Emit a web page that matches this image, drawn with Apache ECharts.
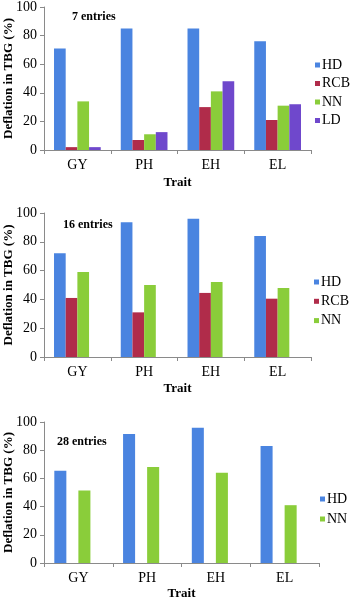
<!DOCTYPE html>
<html>
<head>
<meta charset="utf-8">
<script src="https://cdn.jsdelivr.net/npm/echarts@6/dist/echarts.min.js"></script>
<style>html,body{margin:0;padding:0;background:#fff;}#c{width:350px;height:602px;}</style>
</head>
<body>
<div id="c"></div>
<script>
const categories = ['GY', 'PH', 'EH', 'EL'];
const yTicks = [0, 20, 40, 60, 80, 100];
const panelTitles = ['7 entries', '16 entries', '28 entries'];
const seriesNames = ['HD', 'RCB', 'NN', 'LD'];

// Panel 1: 7 entries
const p1_HD = [71, 85, 85, 76];
const p1_RCB = [2, 7, 30, 21];
const p1_NN = [34, 11, 41, 31];
const p1_LD = [2, 12.5, 48, 32];

// Panel 2: 16 entries
const p2_HD = [72, 93.5, 96, 84];
const p2_RCB = [41, 31, 44.5, 40.5];
const p2_NN = [59, 50, 52, 48];
const p2_LD = [null, null, null, null];

// Panel 3: 28 entries
const p3_HD = [65.5, 91.5, 96, 83];
const p3_RCB = [null, null, null, null];
const p3_NN = [51.5, 68, 64, 41];
const p3_LD = [null, null, null, null];

const legends = [['HD', 'RCB', 'NN', 'LD'], ['HD', 'RCB', 'NN'], ['HD', 'NN']];
const panelData = [
  [p1_HD, p1_RCB, p1_NN, p1_LD],
  [p2_HD, p2_RCB, p2_NN, p2_LD],
  [p3_HD, p3_RCB, p3_NN, p3_LD]
];

const colors = { HD: '#4a84e0', RCB: '#b02c4a', NN: '#8acd3a', LD: '#6f48cc' };
const FONT = 'Liberation Serif';

const grids = [
  { left: 44, right: 39, top: 7, height: 143 },
  { left: 44, right: 39, top: 213, height: 144 },
  { left: 44, right: 31, top: 422, height: 141 }
];
const nameGapsX = [26, 25, 24];
const legendPos = [
  { left: 315, top: 58, itemGap: 4.5 },
  { left: 314, top: 275, itemGap: 5.3 },
  { left: 320, top: 492, itemGap: 6 }
];
const titlePos = [
  { left: 72, top: 11 },
  { left: 63, top: 219 },
  { left: 57, top: 436 }
];

const axisLineStyle = { color: '#8a8a8a', width: 1 };

const option = {
  animation: false,
  backgroundColor: '#fff',
  title: panelTitles.map((t, i) => ({
    text: t, left: titlePos[i].left, top: titlePos[i].top, padding: 0,
    textStyle: { fontFamily: FONT, fontWeight: 'bold', fontSize: 12, color: '#000' }
  })),
  legend: legends.map((d, i) => ({
    data: d, orient: 'vertical', left: legendPos[i].left, top: legendPos[i].top,
    itemGap: legendPos[i].itemGap, itemWidth: 5, itemHeight: 5, icon: 'rect', padding: 0,
    selectedMode: false,
    textStyle: { fontFamily: FONT, fontSize: 14, color: '#000', lineHeight: 13, padding: [0, 0, 0, -3] }
  })),
  grid: grids.map(g => Object.assign({ containLabel: false, outerBoundsMode: 'none' }, g)),
  xAxis: grids.map((g, i) => ({
    type: 'category', gridIndex: i, data: categories,
    name: 'Trait', nameLocation: 'middle', nameGap: nameGapsX[i], nameMoveOverlap: false,
    nameTextStyle: { fontFamily: FONT, fontWeight: 'bold', fontSize: 13, color: '#000' },
    axisLine: { lineStyle: axisLineStyle },
    axisTick: { show: true, length: 4, lineStyle: axisLineStyle },
    axisLabel: { fontFamily: FONT, fontSize: 14, color: '#000', margin: 8 }
  })),
  yAxis: grids.map((g, i) => ({
    type: 'value', gridIndex: i, min: yTicks[0], max: yTicks[yTicks.length - 1], interval: 20,
    name: 'Deflation in TBG (%)', nameLocation: 'middle', nameRotate: 90, nameGap: 29, nameMoveOverlap: false,
    nameTextStyle: { fontFamily: FONT, fontWeight: 'bold', fontSize: 13, color: '#000' },
    axisLine: { show: true, lineStyle: axisLineStyle },
    axisTick: { show: true, length: 4, lineStyle: axisLineStyle },
    splitLine: { show: false },
    axisLabel: { fontFamily: FONT, fontSize: 14, color: '#000', margin: 7 }
  })),
  series: []
};

panelData.forEach((arrs, p) => {
  arrs.forEach((vals, s) => {
    option.series.push({
      type: 'bar', name: seriesNames[s], xAxisIndex: p, yAxisIndex: p,
      data: vals, barGap: 0, barCategoryGap: '30%',
      itemStyle: { color: colors[seriesNames[s]] }
    });
  });
});

const chart = echarts.init(document.getElementById('c'), null, { renderer: 'canvas' });
chart.setOption(option);
</script>
</body>
</html>
